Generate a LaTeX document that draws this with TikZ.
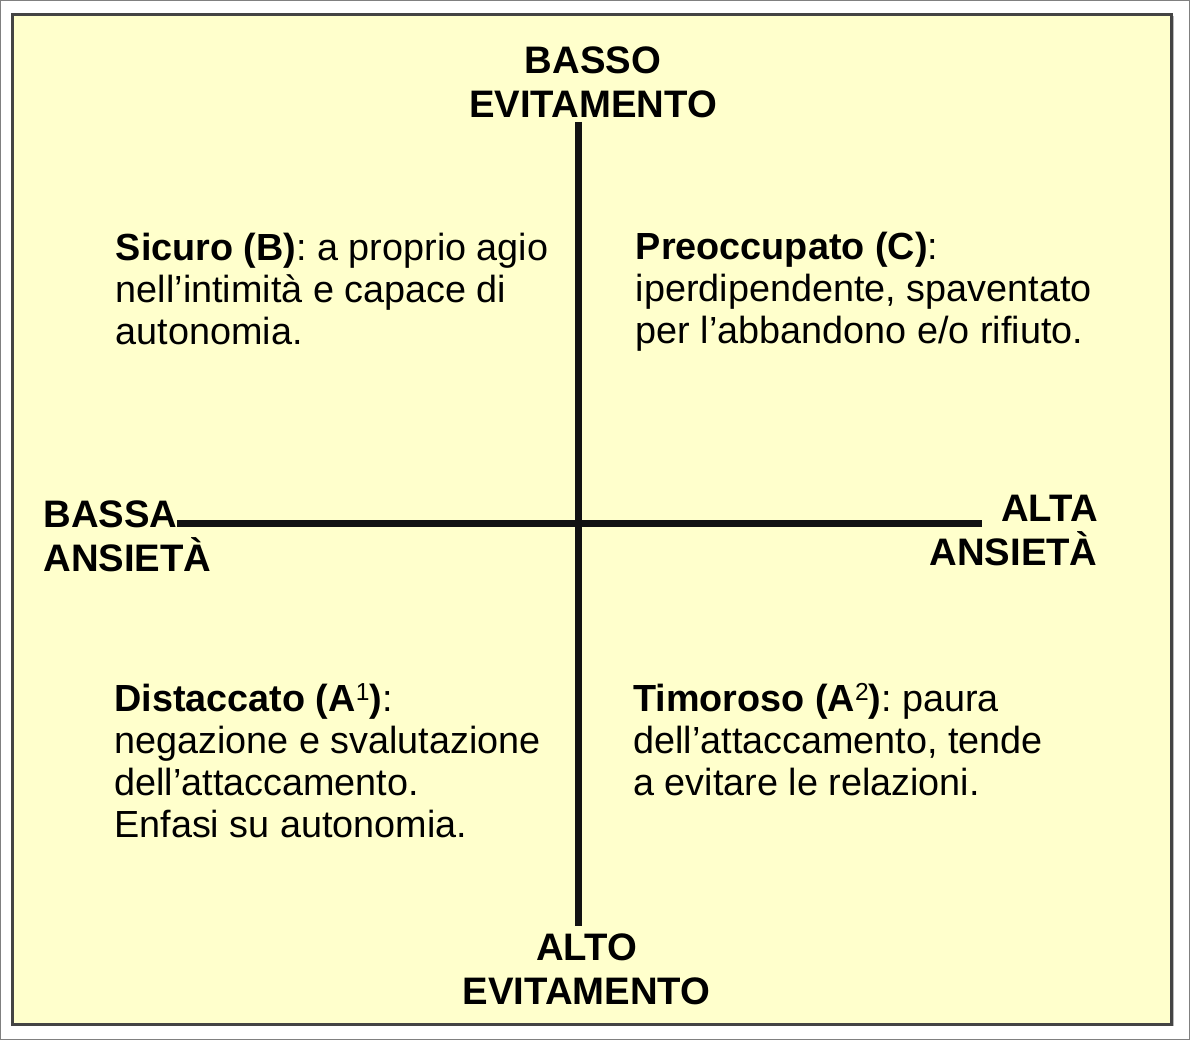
\documentclass[tikz,border=0pt]{standalone}
\usepackage{fontspec}
\setmainfont{Liberation Sans}
\usetikzlibrary{positioning, calc}
\definecolor{paneyellow}{RGB}{255, 255, 204}
\definecolor{panegray}{RGB}{68, 68, 68}
\definecolor{edgegray}{RGB}{128, 128, 128}
\newcommand{\supnum}[1]{\raisebox{0.3em}{\fontsize{14}{14}\selectfont\mdseries #1}}
\frenchspacing

\begin{document}
\begin{tikzpicture}[
  axislabel/.style={inner sep=0pt, font=\fontsize{21.8}{25}\selectfont\bfseries},
  quadtext/.style={inner sep=0pt, align=left, anchor=north west, font=\fontsize{21.5}{23.9}\selectfont},
  axisline/.style={line width=0.126cm, black!93}
]
  \useasboundingbox (0, 0) rectangle (23.8, 20.8);

  % Outer frame and panel
  \draw[edgegray, line width=0.02cm, fill=white] (0.01, 0.01) rectangle (23.79, 20.79);
  \fill[gray!55] (0.29, 0.27) rectangle (23.47, 20.47);
  \draw[panegray, line width=0.06cm, fill=paneyellow] (0.25, 0.31) rectangle (23.43, 20.51);

  % Axes
  \coordinate (top) at (11.57, 18.36);
  \coordinate (bottom) at (11.57, 2.28);
  \coordinate (left) at (3.54, 10.33);
  \coordinate (right) at (19.64, 10.33);
  \draw[axisline] (top) -- (bottom);
  \draw[axisline] (left) -- (right);

  % Axis labels
  \node[axislabel, align=center, anchor=north] (lowavoid) at (11.86, 19.88) {BASSO\\EVITAMENTO};
  \node[axislabel, align=center, anchor=north] (highavoid) at (11.73, 2.14) {ALTO\\EVITAMENTO};
  \node[axislabel, align=left, anchor=north west] (lowanx) at (0.86, 10.8) {BASSA\\ANSIETÀ};
  \node[axislabel, align=right, anchor=north east] (highanx) at (21.96, 10.9) {ALTA\\ANSIETÀ};

  % Quadrants
  \node[quadtext] (secure) at (2.31, 16.14) {\textbf{Sicuro (B)}: a proprio agio\\nell’intimità e capace di\\autonomia.};
  \node[quadtext] (preocc) at (12.71, 16.16) {\textbf{Preoccupato (C)}:\\iperdipendente, spaventato\\per l’abbandono e/o rifiuto.};
  \node[quadtext] (detach) at (2.28, 7.14) {\textbf{Distaccato (A\supnum{1})}:\\negazione e svalutazione\\dell’attaccamento.\\Enfasi su autonomia.};
  \node[quadtext] (fearful) at (12.66, 7.14) {\textbf{Timoroso (A\supnum{2})}: paura\\dell’attaccamento, tende\\a evitare le relazioni.};
\end{tikzpicture}
\end{document}
